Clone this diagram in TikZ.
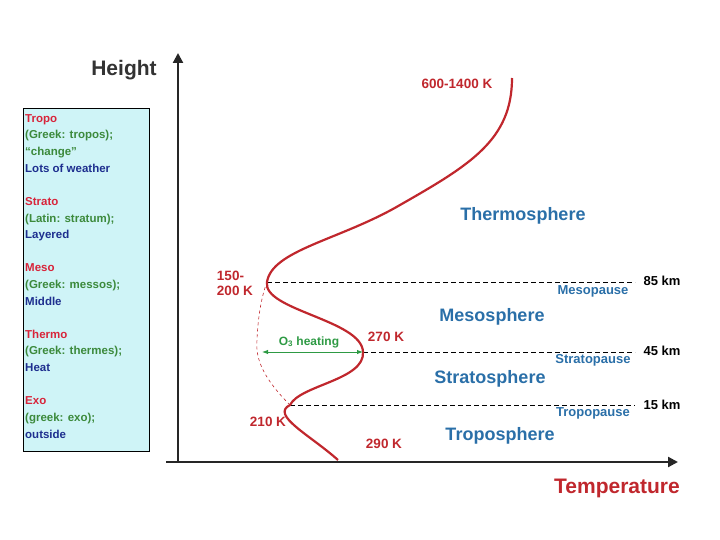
\documentclass[tikz,border=0pt]{standalone}
\usepackage{fontspec}
\setmainfont{Liberation Sans}
\usetikzlibrary{arrows.meta}
\definecolor{cred}{HTML}{C0272D}
\definecolor{cblue}{HTML}{2A6FA8}
\definecolor{cgreen}{HTML}{2E9A44}
\definecolor{tred}{HTML}{D8243A}
\definecolor{tgreen}{HTML}{3C8A3C}
\definecolor{tblue}{HTML}{1E2F8F}
\definecolor{boxbg}{HTML}{CFF4F7}
\tikzset{
 lay/.style={font=\bfseries\fontsize{18}{20}\selectfont,text=cblue},
 pause/.style={font=\bfseries\fontsize{13}{15}\selectfont,text=cblue},
 km/.style={font=\bfseries\fontsize{13}{15}\selectfont},
 kel/.style={font=\bfseries\fontsize{13.5}{15}\selectfont,text=cred,align=left},
 lvl/.style={dash pattern=on 5pt off 3pt,black,line width=0.9pt},
 axis/.style={line width=2.2pt,black!85,-{Triangle[length=10pt,width=10pt]}},
}
\begin{document}
\begin{tikzpicture}[x=1pt,y=-1pt]
\useasboundingbox (0,0) rectangle (720,540);
\node[draw=black,fill=boxbg,minimum width=126,minimum height=343,anchor=north west,inner sep=0] (box) at (23,108) {};
\node[anchor=north west,align=left,font=\bfseries\fontsize{11.5}{16.8}\selectfont,inner sep=0] (boxt) at (25,114) {%
\textcolor{tred}{Tropo}\\\textcolor{tgreen}{(Greek: tropos);}\\\textcolor{tgreen}{“change”}\\\textcolor{tblue}{Lots of weather}\\[16pt]
\textcolor{tred}{Strato}\\\textcolor{tgreen}{(Latin: stratum);}\\\textcolor{tblue}{Layered}\\[16pt]
\textcolor{tred}{Meso}\\\textcolor{tgreen}{(Greek: messos);}\\\textcolor{tblue}{Middle}\\[16pt]
\textcolor{tred}{Thermo}\\\textcolor{tgreen}{(Greek: thermes);}\\\textcolor{tblue}{Heat}\\[16pt]
\textcolor{tred}{Exo}\\\textcolor{tgreen}{(greek: exo);}\\\textcolor{tblue}{outside}};
\coordinate (o) at (178,462);
\coordinate (ytop) at (178,53);
\coordinate (xl) at (166,462);
\coordinate (xr) at (678,462);
\draw[axis] (o) -- (ytop);
\draw[axis] (xl) -- (xr);
\node[font=\bfseries\fontsize{21}{23}\selectfont,text=black!80] (h) at (124,70) {Height};
\node[font=\bfseries\fontsize{21}{23}\selectfont,text=cred] (t) at (617,488) {Temperature};
% levels
\coordinate (tp) at (290,405);
\coordinate (sp) at (363,352);
\coordinate (mp) at (267,282);
\coordinate (tpE) at (635,405);
\coordinate (spE) at (635,352);
\coordinate (mpE) at (635,282);
\draw[lvl] (tp) -- (tpE);
\draw[lvl] (sp) -- (spE);
\draw[lvl] (mp) -- (mpE);
% curve
\coordinate (bot) at (338,460);
\coordinate (top) at (512,78);
\draw[cred,line width=2.2pt] (bot) .. controls (310,435) and (270,415) .. (tp)
 .. controls (300,385) and (365,380) .. (sp)
 .. controls (362,320) and (262,310) .. (mp)
 .. controls (272,250) and (340,240) .. (400,205)
 .. controls (470,165) and (512,140) .. (top);
\draw[cred,dashed,line width=0.6pt] (tp) .. controls (265,380) and (255,360) .. (257,340) .. controls (258,315) and (262,295) .. (mp);
\coordinate (o3l) at (262,352);
\draw[cgreen,line width=0.9pt,{Latex[length=6pt]}-{Latex[length=6pt]}] (o3l) -- (sp);
\node[font=\bfseries\fontsize{12}{14}\selectfont,text=cgreen] (o3) at (309,342) {O\textsubscript{3} heating};
% labels
\node[kel] (k1) at (457,84) {600-1400 K};
\node[kel] (k2) at (235,283) {150-\\200 K};
\node[kel] (k3) at (386,337) {270 K};
\node[kel] (k4) at (268,422) {210 K};
\node[kel] (k5) at (384,444) {290 K};
\node[km] (km85) at (662,281) {85 km};
\node[km] (km45) at (662,351) {45 km};
\node[km] (km15) at (662,405) {15 km};
\node[pause] (pm) at (593,291) {Mesopause};
\node[pause] (ps) at (593,360) {Stratopause};
\node[pause] (pt) at (593,413) {Tropopause};
\node[lay] (lm) at (492,317) {Mesosphere};
\node[lay] (ls) at (490,379) {Stratosphere};
\node[lay] (lt) at (500,436) {Troposphere};
\node[lay] (lth) at (523,216) {Thermosphere};
\end{tikzpicture}
\end{document}
